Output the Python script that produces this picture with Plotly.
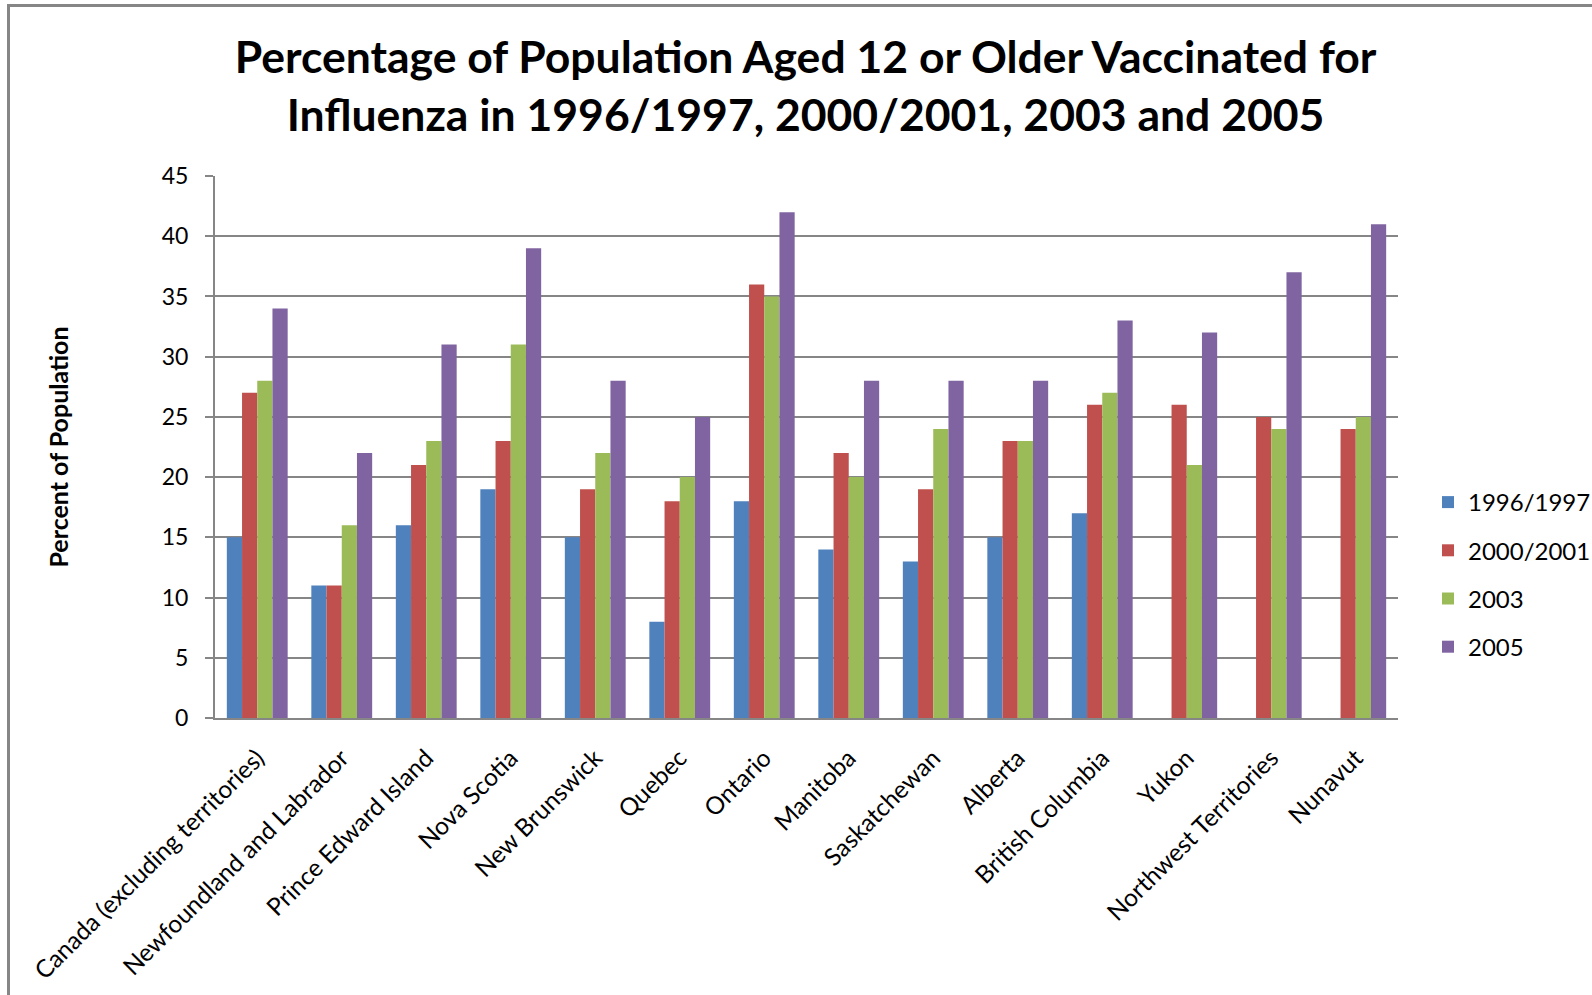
import plotly.graph_objects as go

categories = ["Canada (excluding territories)", "Newfoundland and Labrador", "Prince Edward Island",
              "Nova Scotia", "New Brunswick", "Quebec", "Ontario", "Manitoba", "Saskatchewan",
              "Alberta", "British Columbia", "Yukon", "Northwest Territories", "Nunavut"]
v1996_1997 = [15, 11, 16, 19, 15, 8, 18, 14, 13, 15, 17, None, None, None]
v2000_2001 = [27, 11, 21, 23, 19, 18, 36, 22, 19, 23, 26, 26, 25, 24]
v2003 = [28, 16, 23, 31, 22, 20, 35, 20, 24, 23, 27, 21, 24, 25]
v2005 = [34, 22, 31, 39, 28, 25, 42, 28, 28, 28, 33, 32, 37, 41]
series_names = ["1996/1997", "2000/2001", "2003", "2005"]
series_values = [v1996_1997, v2000_2001, v2003, v2005]
colors = ["#4F81BD", "#C0504D", "#9BBB59", "#8064A2"]
y_ticks = [0, 5, 10, 15, 20, 25, 30, 35, 40, 45]

W, H = 1592, 995
L, R, T, B = 215, 194, 176, 277
PW, PH = W - L - R, H - T - B

fig = go.Figure()
for name, vals, col in zip(series_names, series_values, colors):
    fig.add_trace(go.Bar(x=categories, y=vals, name=name, marker=dict(color=col, line=dict(width=0)),
                         legendgroup=name))

FONT = "Lato, 'Open Sans', sans-serif"
grid = "#868686"

fig.update_layout(
    width=W, height=H,
    margin=dict(l=L, r=R, t=T, b=B, autoexpand=False),
    paper_bgcolor="white", plot_bgcolor="white",
    barmode="group", bargap=0.28, bargroupgap=0,
    font=dict(family=FONT, color="black", size=24),
    title=dict(text="<b>Percentage of Population Aged 12 or Older Vaccinated for<br>Influenza in 1996/1997, 2000/2001, 2003 and 2005</b>",
               x=0.506, xanchor="center", y=1 - 73 / H, yanchor="middle",
               font=dict(family=FONT, size=44.5, color="black")),
    showlegend=True,
    legend=dict(x=(1428 - L) / PW, xanchor="left", y=1 - (480 - T) / PH, yanchor="top",
                font=dict(family=FONT, size=24, color="black"), tracegroupgap=14,
                traceorder="grouped", bgcolor="rgba(0,0,0,0)", itemwidth=30),
    xaxis=dict(type="category", tickangle=-45, showgrid=False, showline=True, linecolor=grid, linewidth=2,
               ticks="", tickfont=dict(family=FONT, size=24.5, color="black"), automargin=False,
               ticklabelstandoff=14),
    yaxis=dict(range=[0, 45], tickvals=y_ticks, showgrid=True, gridcolor=grid, gridwidth=1.5,
               showline=True, linecolor=grid, linewidth=2, ticks="outside", ticklen=8, tickcolor=grid,
               tickwidth=1.5, tickfont=dict(family=FONT, size=23, color="black"), zeroline=False,
               automargin=False, ticklabelstandoff=12,
               title=dict(text="<b>Percent of Population</b>", font=dict(family=FONT, size=25, color="black"),
                          standoff=86)),
)

# outer chart frame (top and left edges visible)
fig.add_shape(type="line", xref="paper", yref="paper",
              x0=(8.5 - L) / PW, x1=(W + 5 - L) / PW, y0=1 + (T - 5.5) / PH, y1=1 + (T - 5.5) / PH,
              line=dict(color=grid, width=3))
fig.add_shape(type="line", xref="paper", yref="paper",
              x0=(8.5 - L) / PW, x1=(8.5 - L) / PW, y0=1 + (T - 4) / PH, y1=-(B + 5) / PH,
              line=dict(color=grid, width=3))

fig.write_html("out.html")
